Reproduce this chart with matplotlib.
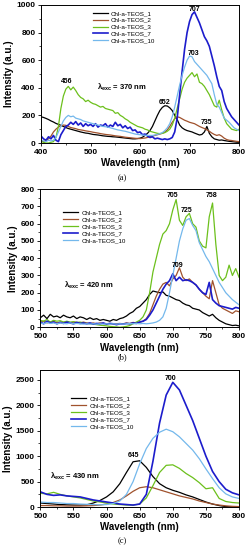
import numpy as np
import matplotlib
matplotlib.use('Agg')
import matplotlib.pyplot as plt
from matplotlib.ticker import MultipleLocator

plt.rcParams['font.family'] = ['Liberation Sans', 'DejaVu Sans']
plt.rcParams['mathtext.fontset'] = 'custom'
plt.rcParams['mathtext.rm'] = 'Liberation Sans:bold'
plt.rcParams['mathtext.it'] = 'Liberation Sans:bold'

labels = ['Chl-a-TEOS_1', 'Chl-a-TEOS_2', 'Chl-a-TEOS_3', 'Chl-a-TEOS_7', 'Chl-a-TEOS_10']
colors = ['#000000', '#a0522d', '#6cc01c', '#1c1ccc', '#74b8ec']
widths = [0.9, 0.9, 0.9, 1.2, 0.9]

# panel (a): excitation 370 nm, 400-800 nm every 5 nm
wl_a = np.arange(400, 801, 5)
a_1 = [190, 185, 178, 170, 160, 152, 142, 135, 128, 120, 112, 105, 100, 95, 90, 85, 80, 76, 72, 70,
       66, 62, 60, 58, 55, 52, 50, 48, 47, 45, 44, 42, 40, 38, 36, 34, 32, 30, 30, 32,
       35, 42, 55, 70, 90, 120, 160, 200, 235, 258, 270, 268, 255, 235, 200, 170, 130, 110, 98, 90,
       85, 80, 72, 65, 58, 62, 80, 120, 70, 45, 30, 25, 20, 22, 18, 15, 12, 10, 8, 6, 5]
a_2 = [15, 10, 20, 30, 50, 80, 100, 115, 125, 130, 128, 120, 112, 108, 104, 98, 95, 92, 88, 85,
       82, 78, 75, 72, 68, 65, 62, 60, 58, 55, 52, 50, 48, 45, 42, 40, 38, 36, 34, 33,
       32, 34, 36, 40, 45, 50, 55, 60, 65, 70, 80, 95, 120, 150, 175, 190, 185, 175, 165, 158,
       150, 145, 140, 130, 120, 112, 105, 95, 85, 72, 62, 55, 60, 50, 35, 25, 20, 18, 15, 12, 10]
a_3 = [10, 5, 0, 0, 5, 10, 40, 120, 250, 340, 390, 410, 385, 405, 380, 350, 330, 320, 300, 310,
       295, 285, 280, 270, 260, 265, 250, 245, 240, 235, 215, 220, 200, 190, 175, 165, 150, 140, 130, 120,
       115, 110, 100, 95, 85, 80, 75, 70, 68, 70, 75, 85, 100, 130, 180, 250, 320, 390, 440, 470,
       490, 510, 480, 500, 440, 430, 410, 380, 350, 310, 270, 260, 310, 240, 180, 140, 120, 100, 95, 90, 100]
a_7 = [50, 30, 20, 45, 30, 55, 20, 10, 60, 90, 120, 130, 150, 135, 155, 130, 145, 120, 140, 125,
       135, 120, 140, 115, 130, 125, 140, 115, 130, 120, 150, 125, 135, 110, 125, 105, 115, 90, 95, 75,
       80, 60, 65, 50, 40, 45, 30, 35, 30, 25, 30, 25, 30, 40, 80, 180, 350, 520, 680, 800,
       880, 930, 950, 910, 870, 820, 770, 740, 700, 630, 560, 480, 410, 380, 300, 250, 220, 190, 170, 150, 130]
a_10 = [20, 15, 10, 20, 15, 20, 40, 80, 120, 160, 185, 200, 190, 195, 180, 175, 170, 160, 155, 150,
        145, 140, 135, 130, 125, 120, 118, 115, 110, 105, 100, 95, 92, 88, 85, 80, 75, 70, 65, 62,
        60, 58, 56, 55, 55, 55, 58, 62, 68, 75, 90, 110, 140, 190, 260, 340, 420, 490, 550, 600,
        630, 625, 590, 570, 550, 530, 510, 490, 460, 430, 350, 280, 260, 220, 180, 165, 150, 130, 110, 100, 90]

# panel (b): excitation 420 nm, 500-800 nm every 5 nm
wl_b = np.arange(500, 801, 5)
b_1 = [55, 70, 50, 75, 60, 65, 55, 70, 60, 55, 65, 50, 60, 55, 45, 55, 45, 50, 40, 45,
       40, 35, 45, 40, 50, 55, 65, 80, 90, 110, 120, 140, 160, 190, 210, 205, 200, 205, 185, 180,
       170, 160, 155, 140, 130, 125, 110, 105, 100, 85, 75, 65, 75, 55, 40, 30, 20, 15, 10, 12, 8]
b_2 = [30, 35, 25, 30, 35, 25, 30, 28, 32, 25, 30, 28, 25, 30, 25, 22, 25, 20, 25, 22,
       20, 22, 18, 20, 22, 20, 25, 22, 28, 25, 30, 35, 50, 80, 130, 180, 220, 250, 260, 240,
       280, 300, 345, 290, 270, 280, 260, 245, 220, 200, 180, 165, 270, 200, 130, 110, 100, 90, 80, 95, 90]
b_3 = [40, 35, 45, 30, 40, 35, 38, 30, 35, 30, 32, 28, 30, 25, 22, 20, 18, 15, 12, 10,
       8, 5, 3, 2, 0, 2, 5, 10, 20, 30, 40, 60, 100, 200, 320, 400, 480, 540, 560, 600,
       680, 740, 620, 590, 640, 660, 600, 580, 500, 470, 460, 640, 720, 480, 300, 270, 290, 360, 300, 340, 290]
b_7 = [30, 20, 35, 25, 30, 20, 28, 22, 30, 25, 20, 28, 22, 25, 20, 25, 18, 22, 20, 25,
       18, 22, 20, 15, 20, 18, 22, 20, 25, 22, 30, 35, 45, 70, 100, 140, 180, 220, 250, 270,
       310, 270, 290, 270, 275, 270, 260, 245, 220, 200, 190, 260, 160, 140, 125, 120, 115, 110, 105, 115, 110]
b_10 = [25, 20, 28, 22, 25, 20, 25, 22, 20, 25, 20, 22, 20, 18, 20, 18, 20, 18, 20, 18,
        20, 18, 20, 18, 20, 18, 20, 22, 20, 22, 20, 22, 20, 22, 25, 30, 40, 60, 110, 200,
        300, 400, 500, 570, 620, 630, 590, 560, 490, 450, 410, 380, 340, 300, 260, 230, 200, 180, 160, 145, 130]

# panel (c): excitation 430 nm, 500-800 nm every 10 nm
wl_c = np.arange(500, 801, 10)
c_1 = [80, 70, 60, 50, 45, 40, 40, 45, 80, 130, 200, 300, 460, 680, 890, 910, 780, 600, 460, 380,
       330, 290, 240, 200, 150, 100, 60, 30, 10, 5, 0]
c_2 = [30, 30, 25, 25, 20, 20, 20, 25, 30, 40, 60, 90, 140, 220, 310, 380, 400, 380, 340, 300,
       260, 220, 190, 160, 120, 90, 60, 40, 25, 15, 10]
c_3 = [270, 260, 290, 250, 220, 200, 180, 150, 120, 100, 80, 60, 50, 40, 40, 60, 180, 420, 680, 820,
       830, 760, 660, 580, 480, 360, 380, 170, 110, 90, 80]
c_7 = [300, 250, 230, 240, 220, 210, 200, 170, 140, 120, 100, 80, 60, 50, 40, 60, 250, 900, 1650, 2200,
       2450, 2300, 2000, 1700, 1350, 1000, 700, 500, 350, 280, 240]
c_10 = [100, 90, 90, 80, 70, 70, 60, 55, 50, 45, 50, 70, 120, 250, 500, 850, 1150, 1350, 1470, 1530,
        1480, 1380, 1250, 1120, 950, 750, 560, 380, 260, 200, 170]

panels = [
    dict(wl=wl_a, ys=[a_1, a_2, a_3, a_7, a_10], xlim=(400, 800), ylim=(0, 1000),
         xmaj=100, ymaj=200, exc='370', exc_xy=(513, 406), leg=(0.26, 0.96),
         peaks=[('456', 452, 442), ('652', 650, 294), ('707', 710, 968), ('703', 708, 650), ('735', 735, 150)],
         rect=[0.165, 0.740, 0.795, 0.251], tag='(a)', tag_y=0.672),
    dict(wl=wl_b, ys=[b_1, b_2, b_3, b_7, b_10], xlim=(500, 800), ylim=(0, 800),
         xmaj=50, ymaj=100, exc='420', exc_xy=(536, 242), leg=(0.115, 0.85),
         peaks=[('705', 700, 762), ('725', 721, 675), ('758', 759, 762), ('709', 707, 358)],
         rect=[0.162, 0.405, 0.798, 0.251], tag='(b)', tag_y=0.347),
    dict(wl=wl_c, ys=[c_1, c_2, c_3, c_7, c_10], xlim=(500, 800), ylim=(0, 2700),
         xmaj=50, ymaj=500, exc='430', exc_xy=(515, 594), leg=(0.155, 0.81),
         peaks=[('645', 640, 1012), ('700', 697, 2520)],
         rect=[0.162, 0.078, 0.798, 0.250], tag='(c)', tag_y=0.012),
]

fig = plt.figure(figsize=(2.49, 5.5), dpi=100)

for p in panels:
    ax = fig.add_axes(p['rect'])
    for y, lab, col, lw in zip(p['ys'], labels, colors, widths):
        ax.plot(p['wl'], y, color=col, lw=lw, label=lab)
    ax.set_xlim(*p['xlim'])
    ax.set_ylim(*p['ylim'])
    ax.xaxis.set_major_locator(MultipleLocator(p['xmaj']))
    ax.xaxis.set_minor_locator(MultipleLocator(p['xmaj'] / 2))
    ax.yaxis.set_major_locator(MultipleLocator(p['ymaj']))
    ax.yaxis.set_minor_locator(MultipleLocator(p['ymaj'] / 2))
    ax.tick_params(which='major', direction='out', length=2.5, width=0.6, labelsize=6, pad=1.5)
    ax.tick_params(which='minor', direction='out', length=1.5, width=0.5)
    for t in ax.get_xticklabels() + ax.get_yticklabels():
        t.set_fontweight('bold')
    for s in ax.spines.values():
        s.set_linewidth(0.7)
    ax.set_xlabel('Wavelength (nm)', fontsize=7, fontweight='bold', labelpad=2)
    ax.set_ylabel('Intensity (a.u.)', fontsize=7, fontweight='bold', labelpad=2)
    ax.legend(loc='upper left', bbox_to_anchor=p['leg'], frameon=False, fontsize=4.5,
              handlelength=2.4, handletextpad=0.5, labelspacing=0.25, borderpad=0,
              borderaxespad=0)
    for txt, x, y in p['peaks']:
        ax.text(x, y, txt, fontsize=5, fontweight='bold', ha='center', va='center')
    ax.text(p['exc_xy'][0], p['exc_xy'][1], r'$\lambda_{exc}$ = ' + p['exc'] + ' nm',
            fontsize=5.5, fontweight='bold', ha='left', va='center')
    fig.text(0.49, p['tag_y'], p['tag'], fontsize=6, family='Liberation Serif', ha='center')

fig.savefig('out.png', dpi=100)
